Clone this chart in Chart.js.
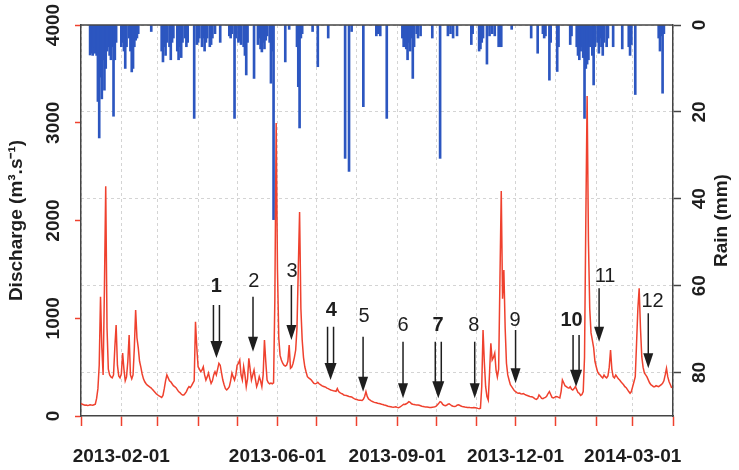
<!DOCTYPE html>
<html><head><meta charset="utf-8">
<script src="https://cdn.jsdelivr.net/npm/chart.js@4.4.1/dist/chart.umd.min.js"></script>
<style>html,body{margin:0;padding:0;background:#fff;}#c{display:block;}</style>
</head><body>
<canvas id="c" width="739" height="470"></canvas>
<script>
// ---- data (day index 0 = 2013-01-01) ----
const monthStarts = [0,31,59,90,120,151,181,212,243,273,304,334,365,396,424,455];
const monthLabels = ['', '2013-02-01', '', '', '', '2013-06-01', '', '', '2013-09-01', '', '', '2013-12-01', '', '', '2014-03-01', ''];
const dischargeTicks = [0,1000,2000,3000,4000];
const rainTicks = [0,20,40,60,80];

const discharge = [
130,120,115,110,112,108,110,115,112,110,
115,120,180,280,520,1220,700,420,1300,2350,
900,480,420,400,390,420,700,930,520,410,
390,430,644,480,360,400,560,828,420,380,
420,700,1084,800,700,560,500,430,380,350,
330,315,305,295,286,270,255,240,225,215,
205,198,190,210,280,360,420,390,360,350,
330,310,300,290,270,250,240,225,215,215,
230,250,280,300,290,310,337,360,965,700,
504,480,453,470,504,420,368,400,440,380,
334,360,420,453,420,480,539,520,440,368,
320,280,266,280,300,360,440,400,368,420,
520,539,573,420,368,504,420,300,380,590,
480,368,420,470,380,300,340,402,360,300,
420,777,560,368,340,330,337,330,340,1200,
2997,1500,800,620,573,540,520,510,520,560,
726,488,500,540,600,675,900,1500,2087,1100,
777,600,504,450,402,390,380,368,350,334,
330,334,345,330,320,310,305,300,295,285,
280,272,266,262,258,255,252,280,250,240,
232,225,215,212,210,205,200,198,195,185,
178,172,168,164,162,160,158,170,200,249,
200,175,164,155,148,142,138,135,130,128,
125,120,118,113,110,105,100,98,95,92,
90,92,95,88,85,90,100,110,120,118,
125,135,147,140,125,120,118,115,113,113,
110,105,100,98,95,93,92,90,88,88,
90,92,95,100,115,130,147,140,118,110,
105,110,120,125,115,105,100,98,100,110,
115,110,102,98,95,92,90,88,88,86,
85,85,87,85,82,78,75,80,300,880,
550,300,200,164,440,744,573,600,644,470,
400,480,1400,2302,1200,1494,900,539,420,368,
320,300,280,260,250,240,232,235,228,225,
230,222,215,210,205,200,198,195,185,175,
170,180,215,200,180,178,185,190,205,230,
250,220,190,185,190,200,198,190,185,250,
368,340,310,300,290,286,300,275,266,280,
300,270,240,232,210,220,250,600,2000,3273,
1800,1100,850,777,700,560,504,453,430,420,
402,390,420,400,390,410,500,675,480,402,
390,420,400,380,368,350,334,320,300,290,
270,250,232,250,300,350,402,744,1100,1306,
900,607,500,440,420,400,370,340,320,310,
300,300,310,305,300,310,320,334,360,420,
488,400,350,320,286
];

const rainDays = [7,8,9,10,11,12,13,14,15,16,17,18,19,20,21,22,23,24,25,26,27,31,32,33,34,35,37,38,39,40,41,42,43,44,54,62,63,64,65,66,68,69,70,71,74,75,76,77,78,80,81,82,87,89,90,91,93,94,95,96,97,99,100,101,103,107,114,115,116,118,119,121,122,123,125,126,127,128,133,136,137,138,139,140,141,142,143,145,146,147,148,157,160,166,167,168,169,170,178,182,190,203,206,208,217,227,228,230,235,247,248,249,250,251,252,253,254,255,256,258,259,261,270,276,282,284,286,289,300,301,306,307,308,309,312,314,316,318,321,322,323,331,346,351,355,356,357,360,361,366,367,376,377,381,382,383,384,385,386,387,388,389,390,391,393,394,395,397,398,399,400,401,402,404,405,409,416,421,422,423,426,444,445,446,447,448];
const rainMm = [6.9,6.5,7,5,6.5,7,17.6,26,12,17,8,15,10,6,5,7,8,5,21,8,4,5,4,6,10,5,3,6,10.8,10,5,3.5,3,2,1.5,6,8.5,5,7,4,5,8,4,3,6,8,5,7.5,4,3,5,4,21.5,4.5,4,3,5,3,6,4,3,5,4.5,3,2,4,2.5,3,2,21.5,3,4,3.5,4.5,5,7,11.5,4,12.3,4.5,3,5.5,6.2,4,5.5,3.5,2.5,4,13.4,6,44.8,8.5,1,5,14.2,23.7,3,2,1.5,9.6,3,30.7,33.7,1.5,18.8,2.5,2,2.5,21.5,3,5,3.5,5.5,8,4,6,3,12.3,5,2,3,2.5,3,30.7,2.5,2,3,2.5,4.5,2,6,5.5,4,3,9,2.5,2,2.5,5,4,5,1,3,6.5,2,3,2.5,12.7,4,10.7,5,4.5,2.5,5,7,8,6,5,7.5,21.5,10,9,8,5,7,13.8,5,4,6.5,3,5,7,4,5,3,5,5.5,5,7,4.5,16,3,6,2.5,15.7,2];

// sampling-campaign arrows (x in days, y in discharge units)
const arrowLabels = ['1','2','3','4','5','6','7','8','9','10','11','12'];
const arrowDays = [104.1,132.2,161.7,191.8,216.8,247.5,274.6,302.6,334.0,380.5,398.2,436.0];
const arrowLabelDays = [104.0,132.9,162.2,192.4,217.5,247.5,274.4,302.0,333.6,377.0,402.8,439.3];
const arrowLabelValues = [1330,1376,1478,1084,1018,926,926,926,982,982,1425,1169];
const arrowTopValues = [1136,1220,1340,914,811,760,760,760,880,829,1306,1051];
const arrowTipValues = [593,658,777,368,249,181,181,181,334,300,760,488];
const arrowDouble = [true,false,false,true,false,false,true,false,false,true,false,false];

// ---- styles ----
const FONT = "'Liberation Sans', Arial, sans-serif";
const RED = '#ef412e';
const BLUE = '#2c56c0';
const AXIS = '#444444';
const GRID = '#d4d4d4';
const TEXT = '#1e1e1e';

const decor = {
  id: 'decor',
  afterDatasetsDraw(chart) {
    const {ctx, chartArea, scales} = chart;
    const xs = scales.x, ys = scales.y;
    ctx.save();
    ctx.strokeStyle = AXIS; ctx.lineWidth = 1.5;
    ctx.beginPath(); ctx.moveTo(chartArea.left, chartArea.top); ctx.lineTo(chartArea.right, chartArea.top); ctx.stroke();

    ctx.strokeStyle = TEXT; ctx.fillStyle = TEXT;
    for (let i = 0; i < arrowLabels.length; i++) {
      const x = xs.getPixelForValue(arrowDays[i]);
      const y0 = ys.getPixelForValue(arrowTopValues[i]);
      const y1 = ys.getPixelForValue(arrowTipValues[i]);
      const dbl = arrowDouble[i];
      const hl = dbl ? 17 : 15, hw = dbl ? 6 : 5;
      ctx.lineWidth = 1.5;
      ctx.beginPath();
      if (dbl) {
        ctx.moveTo(x - 3, y0); ctx.lineTo(x - 3, y1 - hl + 1);
        ctx.moveTo(x + 3, y0); ctx.lineTo(x + 3, y1 - hl + 1);
      } else {
        ctx.moveTo(x, y0); ctx.lineTo(x, y1 - hl + 1);
      }
      ctx.stroke();
      ctx.beginPath();
      ctx.moveTo(x - hw, y1 - hl); ctx.lineTo(x + hw, y1 - hl); ctx.lineTo(x, y1); ctx.closePath();
      ctx.fill();
      ctx.font = (dbl ? 'bold ' : '') + '20px ' + FONT;
      ctx.textAlign = 'center'; ctx.textBaseline = 'middle';
      ctx.fillText(arrowLabels[i], xs.getPixelForValue(arrowLabelDays[i]), ys.getPixelForValue(arrowLabelValues[i]));
    }

    // right axis title, reading bottom-to-top
    ctx.translate(chartArea.right + 49, (chartArea.top + chartArea.bottom) / 2);
    ctx.rotate(-Math.PI / 2);
    ctx.font = 'bold 19px ' + FONT;
    ctx.textAlign = 'center'; ctx.textBaseline = 'middle';
    ctx.fillText('Rain (mm)', 0, 0);
    ctx.restore();
  }
};

const tickFont = {family: FONT, size: 19, weight: 'bold'};

new Chart(document.getElementById('c'), {
  type: 'bar',
  data: {
    datasets: [
      {
        type: 'line',
        data: discharge.map((v, i) => ({x: i, y: v})),
        xAxisID: 'x', yAxisID: 'y',
        borderColor: RED, borderWidth: 1.5, pointRadius: 0, tension: 0, fill: false,
        order: 0
      },
      {
        type: 'bar',
        data: rainDays.map((d, i) => ({x: d, y: rainMm[i]})),
        xAxisID: 'x', yAxisID: 'y2',
        backgroundColor: BLUE, borderWidth: 0, barThickness: 2, grouped: false,
        order: 1
      }
    ]
  },
  options: {
    responsive: false,
    animation: false,
    devicePixelRatio: 1,
    layout: {padding: {top: 25, left: 0, right: 0, bottom: 0}},
    plugins: {legend: {display: false}, tooltip: {enabled: false}},
    scales: {
      x: {
        type: 'linear', min: 0, max: 455, offset: false,
        afterBuildTicks: s => { s.ticks = monthStarts.map(v => ({value: v})); },
        afterFit: s => { s.height = 54; },
        ticks: {
          autoSkip: false, maxRotation: 0, minRotation: 0, padding: 19, color: TEXT,
          font: tickFont,
          callback: v => { const k = monthStarts.indexOf(v); return k >= 0 ? monthLabels[k] : ''; }
        },
        grid: {offset: false, color: GRID, lineWidth: 1, drawTicks: true, tickLength: 10, tickColor: RED, tickWidth: 1.5, tickBorderDash: []},
        border: {display: true, color: AXIS, width: 1.5, dash: [3, 3]}
      },
      y: {
        type: 'linear', position: 'left', min: 0, max: 4000,
        afterBuildTicks: s => { s.ticks = dischargeTicks.map(v => ({value: v})); },
        afterFit: s => { s.width = 81; },
        ticks: {
          minRotation: 90, maxRotation: 90, crossAlign: 'center', padding: 0, color: TEXT,
          font: tickFont,
          callback: v => String(v)
        },
        grid: {offset: false, drawOnChartArea: false, drawTicks: true, tickLength: 6, tickColor: RED, tickWidth: 1.5, tickBorderDash: []},
        border: {display: true, color: AXIS, width: 1.5},
        title: {display: true, text: 'Discharge (m³.s⁻¹)', color: TEXT, font: tickFont, padding: {top: 5, bottom: 0}}
      },
      y2: {
        type: 'linear', position: 'right', reverse: true, min: 0, max: 90,
        afterBuildTicks: s => { s.ticks = rainTicks.map(v => ({value: v})); },
        afterFit: s => { s.width = 66; },
        ticks: {
          minRotation: 90, maxRotation: 90, crossAlign: 'center', padding: 8, color: TEXT,
          font: tickFont,
          callback: v => String(v)
        },
        grid: {offset: false, drawOnChartArea: true, color: GRID, lineWidth: 1, drawTicks: true, tickLength: 8, tickColor: AXIS, tickWidth: 1.5, tickBorderDash: []},
        border: {display: true, color: AXIS, width: 1.5, dash: [3, 3]}
      }
    }
  },
  plugins: [decor]
});
</script>
</body></html>
